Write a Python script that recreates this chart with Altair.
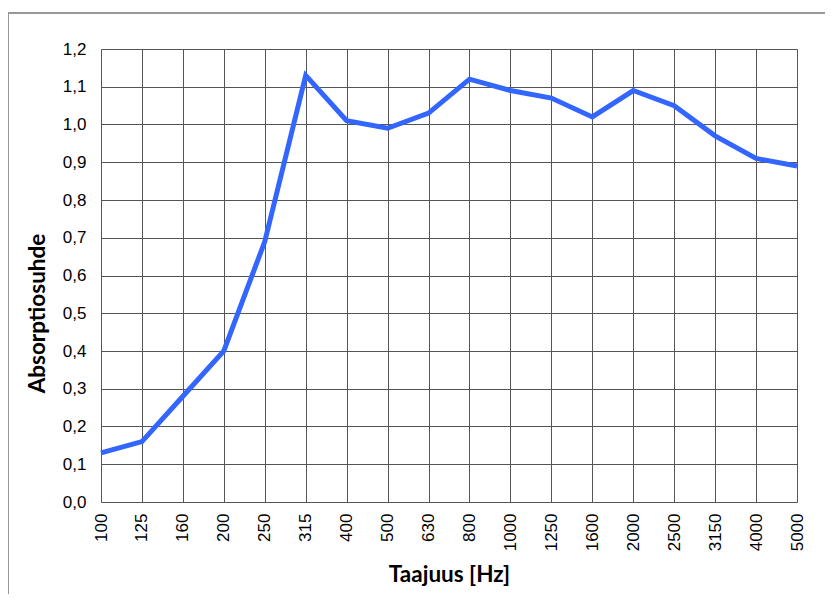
import altair as alt
import pandas as pd

freqs = ["100", "125", "160", "200", "250", "315", "400", "500", "630", "800",
         "1000", "1250", "1600", "2000", "2500", "3150", "4000", "5000"]
absorption = [0.13, 0.16, 0.28, 0.40, 0.69, 1.13, 1.01, 0.99, 1.03, 1.12,
              1.09, 1.07, 1.02, 1.09, 1.05, 0.97, 0.91, 0.89]
y_ticks = [0.0, 0.1, 0.2, 0.3, 0.4, 0.5, 0.6, 0.7, 0.8, 0.9, 1.0, 1.1, 1.2]

df = pd.DataFrame({"f": freqs, "a": absorption})

title_font = "Lato"
label_font = "Liberation Sans"

line = alt.Chart(df).mark_line(color="#3366ff", strokeWidth=5, strokeJoin="miter").encode(
    x=alt.X("f:N", sort=freqs, scale=alt.Scale(type="point", padding=0),
            axis=alt.Axis(title="Taajuus [Hz]", labelAngle=270, grid=True,
                          gridColor="#555555", gridWidth=1, domain=False, ticks=False,
                          labelFont=label_font, labelFontSize=17, labelColor="#000000",
                          labelPadding=11, titleFont=title_font, titleFontSize=22.5,
                          titleFontWeight="bold", titleColor="#000000", titlePadding=13)),
    y=alt.Y("a:Q", scale=alt.Scale(domain=[0, 1.2], nice=False, zero=True),
            axis=alt.Axis(title="Absorptiosuhde", values=y_ticks, grid=True,
                          gridColor="#555555", gridWidth=1, domain=False, ticks=False,
                          labelExpr="replace(format(datum.value, '.1f'), '.', ',')",
                          labelFont=label_font, labelFontSize=17, labelColor="#000000",
                          labelPadding=15, titleFont=title_font, titleFontSize=22.5,
                          titleFontWeight="bold", titleColor="#000000", titlePadding=13,
                          titleY=264)),
)

frame_top = alt.Chart(df).mark_rule(color="#999999", strokeWidth=1.5).encode(
    x=alt.value(-93.5), x2=alt.value(800), y=alt.value(-36))
frame_left = alt.Chart(df).mark_rule(color="#999999", strokeWidth=1.5).encode(
    x=alt.value(-93.5), y=alt.value(-36), y2=alt.value(700))

chart = alt.layer(line, frame_top, frame_left).properties(
    width=696, height=453,
    autosize=alt.AutoSizeParams(type="none"),
    padding={"left": 93, "top": 41, "right": 28, "bottom": 92},
).configure_view(stroke="#000000", strokeWidth=1.5).configure(background="#ffffff")

chart.save("out.html", embed_options={"renderer": "svg", "actions": False})
